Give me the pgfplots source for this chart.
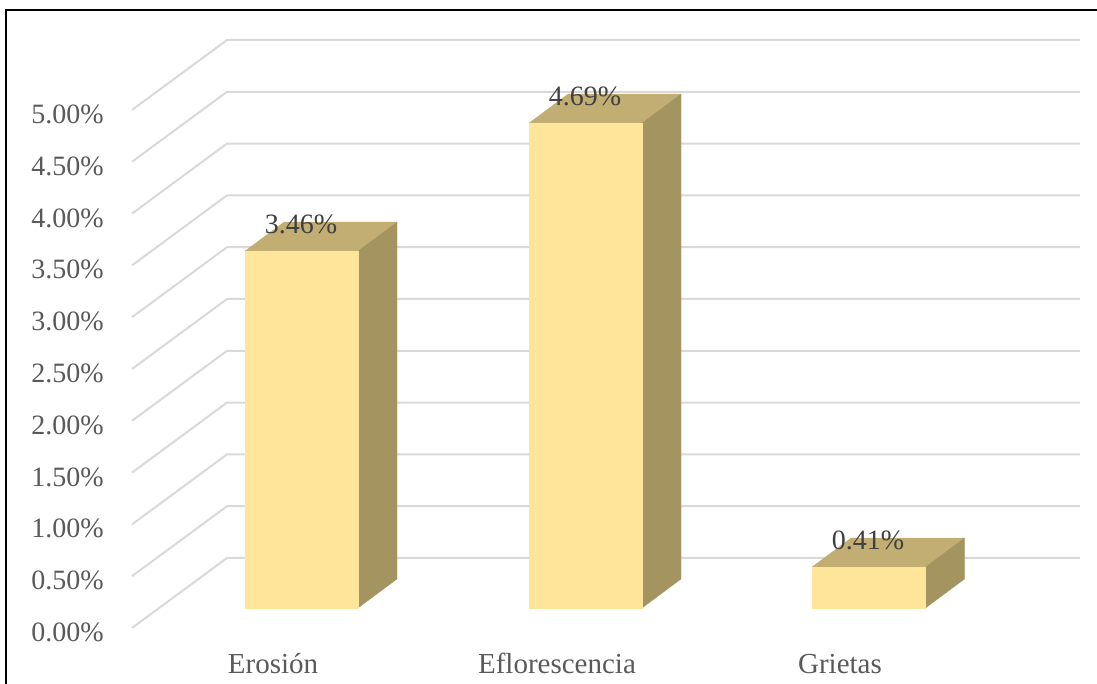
\documentclass[border=0pt]{standalone}
\usepackage{pgfplots}
\pgfplotsset{compat=1.18}
\usepackage{fontspec}
\setmainfont{Liberation Serif}
\definecolor{gridc}{HTML}{D9D9D9}
\definecolor{frontc}{HTML}{FEE599}
\definecolor{sidec}{HTML}{A49560}
\definecolor{topc}{HTML}{C2AE72}
\definecolor{axtxt}{HTML}{595959}
\definecolor{lbltxt}{HTML}{404040}
\begin{document}
\begin{tikzpicture}
\begin{axis}[
  scale only axis, width=1097pt, height=684pt,
  xmin=0, xmax=1097, ymin=-0.7336, ymax=5.8687,
  axis line style={draw=none}, tick style={draw=none},
  major tick length=0pt, no markers,
  xtick={273,557,840}, xticklabels={Erosión,Eflorescencia,Grietas},
  ytick={-0.193,0.307,0.807,1.307,1.807,2.307,2.807,3.307,3.807,4.307,4.807},
  yticklabels={0.00\%,0.50\%,1.00\%,1.50\%,2.00\%,2.50\%,3.00\%,3.50\%,4.00\%,4.50\%,5.00\%},
  yticklabel style={font=\fontsize{28}{30}\selectfont, text=axtxt, anchor=base east, inner sep=0pt, xshift=104pt, yshift=-13.5pt},
  xticklabel style={font=\fontsize{29}{31}\selectfont, text=axtxt, anchor=base, inner sep=0pt, yshift=10pt},
]
% grid: front edge, back edge, right end
\pgfplotsset{gridl/.style={draw=gridc, line width=2pt, line join=miter}}
\addplot[gridl] coordinates {(132,-0.193)(227,0.4826)(1080,0.4826)};
\addplot[gridl] coordinates {(132,0.307)(227,0.9826)(1080,0.9826)};
\addplot[gridl] coordinates {(132,0.807)(227,1.4826)(1080,1.4826)};
\addplot[gridl] coordinates {(132,1.307)(227,1.9826)(1080,1.9826)};
\addplot[gridl] coordinates {(132,1.807)(227,2.4826)(1080,2.4826)};
\addplot[gridl] coordinates {(132,2.307)(227,2.9826)(1080,2.9826)};
\addplot[gridl] coordinates {(132,2.807)(227,3.4826)(1080,3.4826)};
\addplot[gridl] coordinates {(132,3.307)(227,3.9826)(1080,3.9826)};
\addplot[gridl] coordinates {(132,3.807)(227,4.4826)(1080,4.4826)};
\addplot[gridl] coordinates {(132,4.307)(227,4.9826)(1080,4.9826)};
\addplot[gridl] coordinates {(132,4.807)(227,5.4826)(1080,5.4826)};
% Erosión
\addplot[draw=topc, line width=0.3pt, fill=topc] coordinates {(245,3.445)(358,3.445)(397,3.725)(284,3.725)(245,3.445)};
\addplot[draw=sidec, line width=0.3pt, fill=sidec] coordinates {(358,0)(397,0.28)(397,3.725)(358,3.445)(358,0)};
\addplot[draw=frontc, line width=0.3pt, fill=frontc] coordinates {(245,0)(358,0)(358,3.445)(245,3.445)(245,0)};
% Eflorescencia
\addplot[draw=topc, line width=0.3pt, fill=topc] coordinates {(529,4.68)(642,4.68)(681,4.96)(568,4.96)(529,4.68)};
\addplot[draw=sidec, line width=0.3pt, fill=sidec] coordinates {(642,0)(681,0.28)(681,4.96)(642,4.68)(642,0)};
\addplot[draw=frontc, line width=0.3pt, fill=frontc] coordinates {(529,0)(642,0)(642,4.68)(529,4.68)(529,0)};
% Grietas
\addplot[draw=topc, line width=0.3pt, fill=topc] coordinates {(812,0.395)(925.5,0.395)(964.5,0.675)(851,0.675)(812,0.395)};
\addplot[draw=sidec, line width=0.3pt, fill=sidec] coordinates {(925.5,0)(964.5,0.28)(964.5,0.675)(925.5,0.395)(925.5,0)};
\addplot[draw=frontc, line width=0.3pt, fill=frontc] coordinates {(812,0)(925.5,0)(925.5,0.395)(812,0.395)(812,0)};
% data labels
\addplot[draw=none, point meta=explicit symbolic,
  nodes near coords, nodes near coords align={center},
  every node near coord/.append style={font=\fontsize{28}{30}\selectfont, text=lbltxt, inner sep=0pt, anchor=center, yshift=26.5pt}]
  coordinates {(301,3.445)[3.46\%] (585,4.68)[4.69\%] (868,0.395)[0.41\%]};
% outer frame
\addplot[draw=black, line width=2pt] coordinates {(6.3,-0.7336)(6.3,5.772)(1097,5.772)};
\end{axis}
\end{tikzpicture}
\end{document}
